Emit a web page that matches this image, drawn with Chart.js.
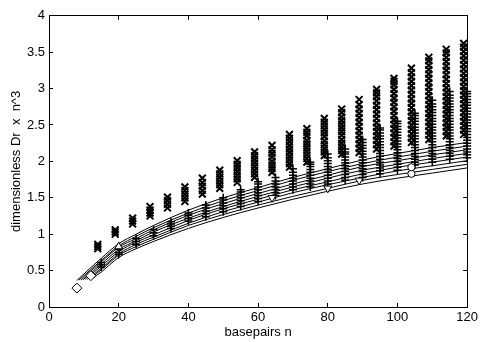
<!DOCTYPE html>
<html>
<head>
<meta charset="utf-8">
<script src="https://cdn.jsdelivr.net/npm/chart.js@4"></script>
<style>
  body { margin: 0; background: #fff; }
  canvas { display: block; }
</style>
</head>
<body>
<canvas id="dnaChart" width="485" height="342"></canvas>
<script>
/* values */
const xTicks = [0, 20, 40, 60, 80, 100, 120];
const yTicks = [0, 0.5, 1, 1.5, 2, 2.5, 3, 3.5, 4];

// columns of 'x' markers
const crossN = [14, 19, 24, 29, 34, 39, 44, 49, 54, 59, 64, 69, 74, 79, 84, 89, 94, 99, 104, 109, 114, 119];
const crossY = [
  [0.80, 0.83, 0.86],
  [1.00, 1.03, 1.06],
  [1.14, 1.18, 1.22],
  [1.25, 1.29, 1.33, 1.38],
  [1.36, 1.41, 1.46, 1.51],
  [1.45, 1.50, 1.55, 1.60, 1.65],
  [1.55, 1.60, 1.66, 1.71, 1.77],
  [1.63, 1.68, 1.73, 1.78, 1.83, 1.88],
  [1.71, 1.76, 1.81, 1.86, 1.91, 1.96, 2.01],
  [1.78, 1.83, 1.88, 1.93, 1.98, 2.03, 2.08, 2.13],
  [1.85, 1.90, 1.95, 2.00, 2.06, 2.11, 2.16, 2.22],
  [1.92, 1.97, 2.02, 2.07, 2.12, 2.17, 2.22, 2.27, 2.32, 2.37],
  [1.99, 2.04, 2.09, 2.14, 2.19, 2.24, 2.29, 2.35, 2.40, 2.45],
  [2.08, 2.13, 2.18, 2.23, 2.28, 2.34, 2.39, 2.44, 2.49, 2.54, 2.59],
  [2.10, 2.15, 2.20, 2.25, 2.30, 2.36, 2.41, 2.46, 2.51, 2.56, 2.61, 2.67, 2.72],
  [2.12, 2.18, 2.24, 2.30, 2.36, 2.42, 2.48, 2.54, 2.60, 2.66, 2.72, 2.78, 2.85],
  [2.17, 2.23, 2.29, 2.35, 2.41, 2.47, 2.53, 2.59, 2.65, 2.71, 2.77, 2.83, 2.89, 2.94, 2.99],
  [2.21, 2.27, 2.33, 2.39, 2.45, 2.51, 2.57, 2.63, 2.69, 2.75, 2.81, 2.87, 2.93, 2.99, 3.05, 3.10, 3.14],
  [2.26, 2.32, 2.38, 2.44, 2.50, 2.56, 2.62, 2.68, 2.74, 2.80, 2.86, 2.92, 2.98, 3.04, 3.10, 3.16, 3.22, 3.28],
  [2.30, 2.36, 2.42, 2.48, 2.54, 2.60, 2.66, 2.72, 2.78, 2.84, 2.90, 2.96, 3.02, 3.08, 3.14, 3.20, 3.26, 3.32, 3.38, 3.43],
  [2.35, 2.41, 2.47, 2.53, 2.59, 2.65, 2.71, 2.77, 2.83, 2.89, 2.95, 3.01, 3.07, 3.13, 3.19, 3.25, 3.31, 3.37, 3.43, 3.49, 3.54],
  [2.37, 2.43, 2.49, 2.55, 2.61, 2.67, 2.73, 2.79, 2.85, 2.91, 2.97, 3.03, 3.09, 3.15, 3.21, 3.27, 3.33, 3.39, 3.45, 3.51, 3.57, 3.62],
];

// columns of '+' markers
const plusN = [15, 20, 25, 30, 35, 40, 45, 50, 55, 60, 65, 70, 75, 80, 85, 90, 95, 100, 105, 110, 115, 120];
const plusY = [
  [0.55, 0.58, 0.61],
  [0.72, 0.75, 0.79],
  [0.86, 0.90, 0.94],
  [0.98, 1.02, 1.06],
  [1.08, 1.11, 1.14, 1.17],
  [1.18, 1.22, 1.26, 1.29],
  [1.24, 1.28, 1.32, 1.36, 1.40],
  [1.31, 1.35, 1.39, 1.43, 1.47, 1.50],
  [1.38, 1.42, 1.46, 1.50, 1.54, 1.58, 1.61],
  [1.45, 1.49, 1.53, 1.57, 1.61, 1.65, 1.69, 1.72],
  [1.53, 1.57, 1.61, 1.65, 1.69, 1.73, 1.78],
  [1.61, 1.65, 1.69, 1.73, 1.77, 1.81, 1.85, 1.90],
  [1.65, 1.69, 1.73, 1.77, 1.81, 1.85, 1.89, 1.93, 1.96, 1.99],
  [1.69, 1.73, 1.77, 1.81, 1.85, 1.89, 1.93, 1.97, 2.01, 2.05, 2.10],
  [1.74, 1.78, 1.82, 1.86, 1.90, 1.94, 1.98, 2.02, 2.06, 2.10, 2.13, 2.17],
  [1.78, 1.82, 1.86, 1.90, 1.94, 1.98, 2.02, 2.06, 2.10, 2.14, 2.18, 2.22, 2.26, 2.30],
  [1.83, 1.87, 1.91, 1.95, 1.99, 2.03, 2.07, 2.11, 2.15, 2.19, 2.23, 2.27, 2.31, 2.35, 2.39, 2.43, 2.46],
  [1.88, 1.92, 1.96, 2.00, 2.04, 2.08, 2.12, 2.16, 2.20, 2.24, 2.28, 2.32, 2.36, 2.40, 2.44, 2.48, 2.52, 2.55],
  [1.95, 1.99, 2.03, 2.07, 2.11, 2.15, 2.19, 2.23, 2.27, 2.31, 2.35, 2.39, 2.43, 2.47, 2.51, 2.55, 2.59, 2.63, 2.66],
  [1.99, 2.03, 2.07, 2.11, 2.15, 2.19, 2.23, 2.27, 2.31, 2.35, 2.39, 2.43, 2.47, 2.51, 2.55, 2.59, 2.63, 2.67, 2.71, 2.75, 2.79, 2.84],
  [2.03, 2.07, 2.11, 2.15, 2.19, 2.23, 2.27, 2.31, 2.35, 2.39, 2.43, 2.47, 2.51, 2.55, 2.59, 2.63, 2.67, 2.71, 2.75, 2.79, 2.83, 2.87, 2.91, 2.96],
  [2.05, 2.09, 2.13, 2.17, 2.21, 2.25, 2.29, 2.33, 2.37, 2.41, 2.45, 2.49, 2.53, 2.57, 2.61, 2.65, 2.69, 2.73, 2.77, 2.81, 2.85, 2.89, 2.93, 2.96],
];

// fitted curves (bundle of 8)
const lineStartN = [8, 8.6, 9.2, 9.8, 10.4, 11.0, 11.7, 12.4];
const lineStartY = [0.365, 0.37, 0.37, 0.375, 0.38, 0.38, 0.385, 0.39];
const lineN = [15, 20, 25, 30, 40, 50, 60, 70, 80, 90, 100, 110, 120];
const lineY = [
  [0.67, 0.87, 1.00, 1.12, 1.33, 1.50, 1.64, 1.78, 1.90, 2.02, 2.11, 2.19, 2.26],
  [0.64, 0.84, 0.97, 1.09, 1.29, 1.46, 1.60, 1.74, 1.86, 1.97, 2.06, 2.14, 2.21],
  [0.62, 0.82, 0.94, 1.06, 1.26, 1.42, 1.56, 1.69, 1.81, 1.93, 2.01, 2.09, 2.16],
  [0.59, 0.79, 0.91, 1.03, 1.22, 1.38, 1.52, 1.65, 1.77, 1.88, 1.96, 2.04, 2.11],
  [0.56, 0.76, 0.89, 0.99, 1.19, 1.35, 1.48, 1.61, 1.72, 1.83, 1.92, 1.99, 2.06],
  [0.53, 0.73, 0.86, 0.96, 1.15, 1.31, 1.44, 1.57, 1.68, 1.78, 1.87, 1.94, 2.01],
  [0.51, 0.71, 0.83, 0.93, 1.12, 1.27, 1.40, 1.52, 1.63, 1.74, 1.82, 1.89, 1.96],
  [0.48, 0.68, 0.80, 0.90, 1.08, 1.23, 1.36, 1.48, 1.59, 1.69, 1.77, 1.84, 1.91],
];

// open markers
const diamondN = [8, 12];
const diamondY = [0.26, 0.43];
const triUpN = [20];
const triUpY = [0.83];
const triDownN = [64, 80, 89];
const triDownY = [1.50, 1.63, 1.74];
const circleN = [104, 104];
const circleY = [1.83, 1.92];

const FONT = { family: '"Liberation Sans", Arial, Helvetica, sans-serif', size: 13 };

function points(ns, ys) {
  return ns.map((n, i) => ({ x: n, y: ys[i] }));
}

function columns(ns, cols) {
  return ns.flatMap((n, i) => cols[i].map((y) => ({ x: n, y })));
}

function markerSet(data, style, radius, rotation, order) {
  return {
    data,
    pointStyle: style,
    pointRadius: radius,
    pointRotation: rotation,
    pointBorderColor: '#000',
    pointBackgroundColor: '#fff',
    pointBorderWidth: 1,
    showLine: false,
    clip: false,
    order,
  };
}

function buildDatasets() {
  const datasets = [];

  datasets.push({
    data: columns(crossN, crossY),
    pointStyle: 'crossRot',
    pointRadius: 4.8,
    pointBorderColor: '#000',
    pointBorderWidth: 2,
    showLine: false,
    clip: false,
    order: 5,
  });
  datasets.push({
    data: columns(plusN, plusY),
    pointStyle: 'cross',
    pointRadius: 4,
    pointBorderColor: '#000',
    pointBorderWidth: 1.5,
    showLine: false,
    clip: false,
    order: 4,
  });

  for (let i = 0; i < lineY.length; i += 1) {
    const data = [{ x: lineStartN[i], y: lineStartY[i] }].concat(points(lineN, lineY[i]));
    datasets.push({
      data,
      showLine: true,
      borderColor: '#000',
      borderWidth: 1,
      pointRadius: 0,
      cubicInterpolationMode: 'monotone',
      order: 3,
    });
  }

  datasets.push(markerSet(points(diamondN, diamondY), 'rectRot', 5, 0, 1));
  datasets.push(markerSet(points(triUpN, triUpY), 'triangle', 4.5, 0, 1));
  datasets.push(markerSet(points(triDownN, triDownY), 'triangle', 4.5, 180, 1));
  datasets.push(markerSet(points(circleN, circleY), 'circle', 3.6, 0, 1));

  return datasets;
}

function axis(position, ticks, min, max, extra) {
  const horizontal = position === 'bottom' || position === 'top';
  return Object.assign({
    type: 'linear',
    position,
    min,
    max,
    afterBuildTicks: (scale) => { scale.ticks = ticks.map((v) => ({ value: v })); },
    ticks: {
      display: false,
      color: '#000',
      font: FONT,
      maxRotation: 0,
      autoSkip: false,
      callback: (v) => String(v),
    },
    grid: {
      drawOnChartArea: false,
      tickLength: -4,
      tickColor: '#000',
      tickWidth: 1,
    },
    border: { display: true, color: '#000', width: 1 },
    afterFit: (scale) => {
      if (horizontal) scale.height = 0; else scale.width = 0;
    },
  }, extra);
}

function dnaChart() {
  const scales = {
    x: axis('bottom', xTicks, 0, 120, {
      afterFit: (scale) => { scale.height = 35; },
      title: { display: true, text: 'basepairs n', color: '#000', font: FONT, padding: { top: 0, bottom: 2 } },
    }),
    y: axis('left', yTicks, 0, 4, {
      afterFit: (scale) => { scale.width = 49; },
      title: { display: true, text: 'dimensionless Dr  x  n^3', color: '#000', font: FONT, padding: { top: 9, bottom: 0 } },
    }),
    x2: axis('top', xTicks, 0, 120, {}),
    y2: axis('right', yTicks, 0, 4, {}),
  };
  scales.x.ticks = Object.assign({}, scales.x.ticks, { display: true, padding: 7 });
  scales.y.ticks = Object.assign({}, scales.y.ticks, { display: true, padding: 8 });

  const config = {
    type: 'scatter',
    data: { datasets: buildDatasets() },
    options: {
      responsive: false,
      animation: false,
      devicePixelRatio: 1,
      events: [],
      layout: { padding: { left: 0, right: 13, top: 11, bottom: 0 } },
      plugins: {
        legend: { display: false },
        tooltip: { enabled: false },
      },
      scales,
    },
  };

  return new Chart(document.getElementById('dnaChart'), config);
}

dnaChart();
</script>
</body>
</html>
